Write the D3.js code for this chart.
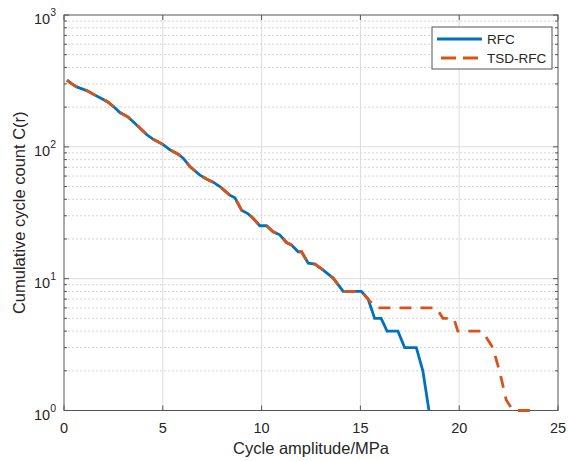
<!DOCTYPE html>
<html>
<head>
<meta charset="utf-8">
<script src="https://cdn.jsdelivr.net/npm/d3@7"></script>
<style>
  body { margin: 0; background: #fff; }
  text { font-family: "Liberation Sans", Arial, sans-serif; fill: #262626; }
</style>
</head>
<body>
<svg id="chart" width="568" height="461"></svg>
<script>
// shared part of both curves (cycle amplitude in MPa, cumulative count)
let amp_shared = [0.15, 0.4, 0.64, 1.15, 1.5, 1.82, 2.2, 2.49, 2.83, 3.25, 3.5, 3.84, 4.18, 4.52, 5.02, 5.36, 5.78, 6.03, 6.37, 6.88, 7.21, 7.55, 7.89, 8.39, 8.65, 8.99, 9.32, 9.57, 9.91, 10.25, 10.58, 10.92, 11.26, 11.51, 11.85, 12.02, 12.36, 12.7, 13.12, 13.62, 14.13, 15.05, 15.39]
let count_shared = [320, 300, 285, 267, 250, 236, 220, 203, 182, 168, 155, 139, 124, 114, 104, 95, 88, 82, 71, 61, 57, 54, 50, 43, 41, 33, 31, 28.7, 25.2, 25.2, 22.7, 21.5, 18.8, 18, 16, 16, 13.1, 12.9, 11.6, 10.1, 8, 8, 7]

// tails where the two methods part
let amp_rfc_tail = [15.72, 16.05, 16.35, 16.9, 17.24, 17.83, 18.16, 18.47]
let count_rfc_tail = [5, 5, 4, 4, 3, 3, 2, 1]
let amp_tsd_tail = [15.81, 18.84, 19.18, 19.73, 19.93, 21.17, 21.7, 22.04, 22.38, 22.72, 23.85]
let count_tsd_tail = [6, 6, 5, 5, 4, 4, 3, 2, 1.2, 1, 1]

let x_ticks = [0, 5, 10, 15, 20, 25]
let y_ticks = [1, 10, 100, 1000]
let y_exps = ["0", "1", "2", "3"]
let series_names = ["RFC", "TSD-RFC"]

let rfc = amp_shared.concat(amp_rfc_tail).map((a, i) => [a, count_shared.concat(count_rfc_tail)[i]])
let tsd = amp_shared.concat(amp_tsd_tail).map((a, i) => [a, count_shared.concat(count_tsd_tail)[i]])

let p_left = 64, p_right = 558, p_top = 15, p_bottom = 410.5
let svg = d3.select("#chart")

let x = d3.scaleLinear().domain([0, 25]).range([p_left, p_right])
let y = d3.scaleLog().domain([1, 1000]).range([p_bottom, p_top])

// minor log ticks
let minor = []
for (let d = 1; d < 1000; d *= 10) {
  for (let k = 2; k <= 9; k++) minor.push(d * k)
}

// grid
svg.append("g").selectAll("line").data(minor).enter().append("line")
   .attr("x1", p_left).attr("x2", p_right)
   .attr("y1", d => y(d)).attr("y2", d => y(d))
   .attr("stroke", "#d4d4d4").attr("stroke-width", 1)
   .attr("stroke-dasharray", "2,2")
svg.append("g").selectAll("line").data(y_ticks.slice(1, 3)).enter().append("line")
   .attr("x1", p_left).attr("x2", p_right)
   .attr("y1", d => y(d)).attr("y2", d => y(d))
   .attr("stroke", "#dcdcdc").attr("stroke-width", 1)
svg.append("g").selectAll("line").data(x_ticks.slice(1, 5)).enter().append("line")
   .attr("x1", d => x(d)).attr("x2", d => x(d))
   .attr("y1", p_top).attr("y2", p_bottom)
   .attr("stroke", "#dcdcdc").attr("stroke-width", 1)

// box
svg.append("rect")
   .attr("x", p_left).attr("y", p_top)
   .attr("width", p_right - p_left).attr("height", p_bottom - p_top)
   .attr("fill", "none").attr("stroke", "#555").attr("stroke-width", 1)

// ticks (inward, both sides)
let tk = svg.append("g").attr("stroke", "#555").attr("stroke-width", 1)
x_ticks.forEach(function(t){
  tk.append("line").attr("x1", x(t)).attr("x2", x(t)).attr("y1", p_bottom).attr("y2", p_bottom - 5)
  tk.append("line").attr("x1", x(t)).attr("x2", x(t)).attr("y1", p_top).attr("y2", p_top + 5)
})
y_ticks.forEach(function(t){
  tk.append("line").attr("x1", p_left).attr("x2", p_left + 5).attr("y1", y(t)).attr("y2", y(t))
  tk.append("line").attr("x1", p_right).attr("x2", p_right - 5).attr("y1", y(t)).attr("y2", y(t))
})
minor.forEach(function(t){
  tk.append("line").attr("x1", p_left).attr("x2", p_left + 3).attr("y1", y(t)).attr("y2", y(t))
  tk.append("line").attr("x1", p_right).attr("x2", p_right - 3).attr("y1", y(t)).attr("y2", y(t))
})

// tick labels
svg.append("g").selectAll("text").data(x_ticks).enter().append("text")
   .attr("x", d => x(d)).attr("y", 433)
   .attr("text-anchor", "middle").attr("font-size", 14.5)
   .text(d => d)

y_ticks.forEach(function(t, i){
  let lbl = svg.append("text")
     .attr("x", 56).attr("y", y(t) + 9)
     .attr("text-anchor", "end").attr("font-size", 14.5)
  lbl.append("tspan").text("10")
  lbl.append("tspan").attr("font-size", 10.5).attr("dy", -8).text(y_exps[i])
})

// axis titles
svg.append("text")
   .attr("x", (p_left + p_right) / 2).attr("y", 454)
   .attr("text-anchor", "middle").attr("font-size", 16.5)
   .text("Cycle amplitude/MPa")
svg.append("text")
   .attr("transform", "translate(25," + ((p_top + p_bottom) / 2) + ") rotate(-90)")
   .attr("text-anchor", "middle").attr("font-size", 16.5)
   .text("Cumulative cycle count C(r)")

// curves
let line = d3.line().x(d => x(d[0])).y(d => y(d[1]))
svg.append("path").datum(rfc).attr("d", line)
   .attr("fill", "none").attr("stroke", "#0072BD").attr("stroke-width", 2.8)
svg.append("path").datum(tsd).attr("d", line)
   .attr("fill", "none").attr("stroke", "#D95319").attr("stroke-width", 2.8)
   .attr("stroke-dasharray", "12,9")

// legend
let lg = svg.append("g")
lg.append("rect").attr("x", 432).attr("y", 27).attr("width", 120).attr("height", 42)
  .attr("fill", "#fff").attr("stroke", "#555").attr("stroke-width", 1)
lg.append("line").attr("x1", 437).attr("x2", 482).attr("y1", 39).attr("y2", 39)
  .attr("stroke", "#0072BD").attr("stroke-width", 2.8)
lg.append("line").attr("x1", 441).attr("x2", 478).attr("y1", 58).attr("y2", 58)
  .attr("stroke", "#D95319").attr("stroke-width", 2.8).attr("stroke-dasharray", "15,7")
series_names.forEach(function(n, i){
  lg.append("text").attr("x", 487).attr("y", 44 + i * 19)
    .attr("font-size", 13.5).text(n)
})
</script>
</body>
</html>
